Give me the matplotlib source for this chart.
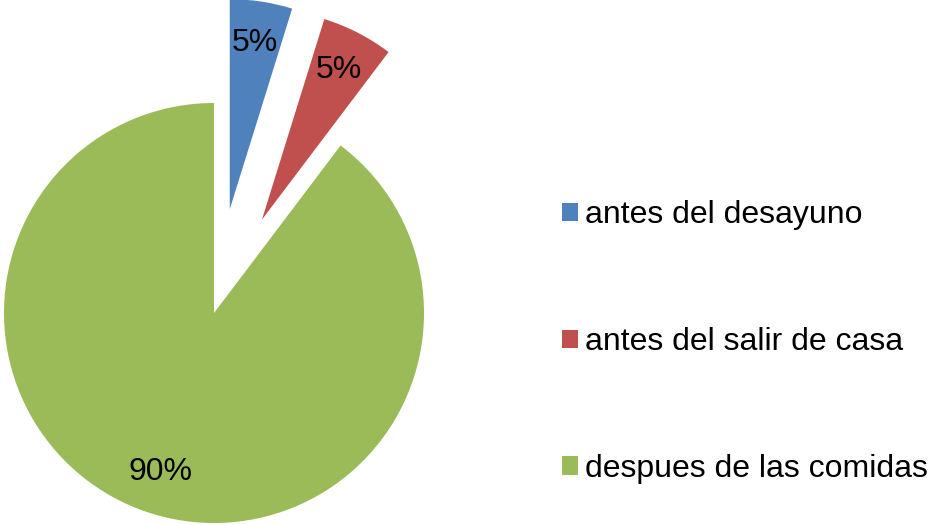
import matplotlib
matplotlib.use("Agg")
import matplotlib.pyplot as plt

categories = ["antes del desayuno", "antes del salir de casa", "despues de las comidas"]
values = [4.8, 5.5, 89.7]
pct_labels = ["5%", "5%", "90%"]
colors = ["#4F81BD", "#C0504D", "#9BBB59"]
explode = [0.5, 0.5, 0.0]

plt.rcParams['font.family'] = ['Liberation Sans', 'DejaVu Sans']

fig = plt.figure(figsize=(9.29, 5.25), dpi=100)
ax = fig.add_axes([4/929, 2/525, 420/929, 420/525])
wedges, texts, autotexts = ax.pie(values, colors=colors, explode=explode,
                                  startangle=90, counterclock=False,
                                  autopct=lambda p: "", pctdistance=0.8,
                                  radius=1.0)
for w in wedges:
    w.set_clip_on(False)
for t, lab in zip(autotexts, pct_labels):
    t.set_text(lab)
    t.set_fontsize(23)
    t.set_clip_on(False)
ax.set_xlim(-1, 1)
ax.set_ylim(-1, 1)
ax.set_aspect('equal')

leg = fig.legend(wedges, categories, loc='center left',
                 bbox_to_anchor=(562/929, (525-342)/525),
                 frameon=False, fontsize=23, handlelength=0.5, handleheight=0.5,
                 handletextpad=0.22, labelspacing=3.03, borderaxespad=0, borderpad=0)

fig.savefig("out.png", dpi=100)
